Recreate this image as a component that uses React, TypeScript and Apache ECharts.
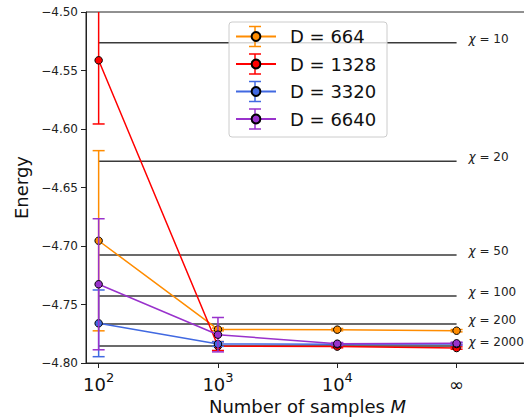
import React, { useEffect, useRef } from 'react';
import * as echarts from 'echarts';

// x positions: log10(M); infinity placed at 5
const samplePositions = [2, 3, 4, 5];
const sampleTickLabels = ['{n|10}{s|2}', '{n|10}{s|3}', '{n|10}{s|4}', '{n|\u221e}'];

const seriesNames = ['D = 664', 'D = 1328', 'D = 3320', 'D = 6640'];
const seriesColors = ['#ff8c00', '#ff0000', '#4169e1', '#9932cc'];

const energyD664 = [-4.6955, -4.7713, -4.7715, -4.7724];
const errorD664 = [0.077, 0.0012, 0.001, 0.001];
const energyD1328 = [-4.5413, -4.7855, -4.786, -4.7872];
const errorD1328 = [0.0544, 0.0038, 0.001, 0.001];
const energyD3320 = [-4.7661, -4.7838, -4.784, -4.7838];
const errorD3320 = [0.0285, 0.002, 0.001, 0.001];
const energyD6640 = [-4.7327, -4.7758, -4.7835, -4.7832];
const errorD6640 = [0.056, 0.0147, 0.001, 0.001];

const chiValues = [10, 20, 50, 100, 200, 2000];
const chiEnergies = [-4.5262, -4.6276, -4.7077, -4.7427, -4.7667, -4.7855];

const yTicks = [-4.8, -4.75, -4.7, -4.65, -4.6, -4.55, -4.5];

const FONT = 'DejaVu Sans';

// legend layout constants
const LEG_LEFT = 229;
const LEG_TOP = 22;
const LEG_PAD = [3.5, 12, 7, 6];
const LEG_ITEM_W = 40;
const LEG_ROW_H = 22;
const LEG_GAP = 5.5;

export default function App() {
  const ref = useRef<HTMLDivElement>(null);
  useEffect(() => {
    document.body.style.margin = '0';
    if (!ref.current) return;
    const chart = echarts.init(ref.current, null, { renderer: 'svg' });

    const energies = [energyD664, energyD1328, energyD3320, energyD6640];
    const errors = [errorD664, errorD1328, errorD3320, errorD6640];

    const series: any[] = [];
    series.push({
      type: 'custom',
      name: 'chi',
      z: 2,
      silent: true,
      clip: false,
      encode: { x: 0, y: 1 },
      data: chiValues.map((c, i) => [5, chiEnergies[i], c]),
      renderItem: (params: any, api: any) => {
        const e = api.value(1);
        const chi = api.value(2);
        const p1 = api.coord([2, e]);
        const p2 = api.coord([5, e]);
        const pl = api.coord([5.1, e]);
        return {
          type: 'group',
          children: [
            {
              type: 'line',
              shape: { x1: p1[0], y1: p1[1], x2: p2[0], y2: p2[1] },
              style: { stroke: '#3a3a3a', lineWidth: 1.5 },
            },
            {
              type: 'text',
              x: pl[0],
              y: pl[1] - 4,
              style: {
                text: '{i|\u03c7} = ' + chi,
                rich: { i: { fontStyle: 'italic', fontSize: 12, fontFamily: FONT, fill: '#222' } },
                fontSize: 12,
                fontFamily: FONT,
                fill: '#222',
                align: 'left',
                verticalAlign: 'middle',
              },
            },
          ],
        };
      },
    });

    seriesNames.forEach((name, k) => {
      const color = seriesColors[k];
      series.push({
        type: 'custom',
        name: 'err' + k,
        z: 10 + 2 * k,
        silent: true,
        clip: false,
        encode: { x: 0, y: 1 },
        data: samplePositions.map((x, i) => [x, energies[k][i], errors[k][i]]),
        renderItem: (params: any, api: any) => {
          const x = api.value(0);
          const y = api.value(1);
          const e = api.value(2);
          const top = api.coord([x, y + e]);
          const bot = api.coord([x, y - e]);
          const cs = params.coordSys;
          const yMin = cs.y;
          const yMax = cs.y + cs.height;
          const cx = top[0];
          const t = Math.max(top[1], yMin);
          const b = Math.min(bot[1], yMax);
          const children: any[] = [
            { type: 'line', shape: { x1: cx, y1: t, x2: cx, y2: b }, style: { stroke: color, lineWidth: 1.5 } },
          ];
          if (top[1] >= yMin) {
            children.push({ type: 'line', shape: { x1: cx - 6, y1: top[1], x2: cx + 6, y2: top[1] }, style: { stroke: color, lineWidth: 1.5 } });
          }
          if (bot[1] <= yMax) {
            children.push({ type: 'line', shape: { x1: cx - 6, y1: bot[1], x2: cx + 6, y2: bot[1] }, style: { stroke: color, lineWidth: 1.5 } });
          }
          return { type: 'group', children };
        },
      });
      series.push({
        type: 'line',
        name,
        z: 11 + 2 * k,
        data: samplePositions.map((x, i) => [x, energies[k][i]]),
        symbol: 'circle',
        symbolSize: 7.5,
        showSymbol: true,
        lineStyle: { color, width: 1.5 },
        itemStyle: { color, borderColor: '#000', borderWidth: 1 },
        emphasis: { disabled: true },
      });
    });

    const graphicEls: any[] = [
      {
        type: 'rect',
        z: 98,
        shape: { x: LEG_LEFT, y: LEG_TOP, width: 158, height: 115, r: 3 },
        style: { fill: 'rgba(255,255,255,0.8)', stroke: '#cccccc', lineWidth: 1 },
      },
    ];
    seriesNames.forEach((_, k) => {
      const cx = LEG_LEFT + LEG_PAD[3] + LEG_ITEM_W / 2;
      const cy = LEG_TOP + LEG_PAD[0] + LEG_ROW_H / 2 + k * (LEG_ROW_H + LEG_GAP);
      const color = seriesColors[k];
      graphicEls.push(
        { type: 'line', z: 99, shape: { x1: cx, y1: cy - 10, x2: cx, y2: cy + 10 }, style: { stroke: color, lineWidth: 1.5 } },
        { type: 'line', z: 99, shape: { x1: cx - 6, y1: cy - 10, x2: cx + 6, y2: cy - 10 }, style: { stroke: color, lineWidth: 1.5 } },
        { type: 'line', z: 99, shape: { x1: cx - 6, y1: cy + 10, x2: cx + 6, y2: cy + 10 }, style: { stroke: color, lineWidth: 1.5 } },
      );
    });

    chart.setOption({
      animation: false,
      backgroundColor: '#ffffff',
      grid: {
        left: 86,
        top: 12,
        width: 443,
        height: 351,
        show: true,
        borderColor: '#222',
        borderWidth: 1,
        containLabel: false,
        outerBoundsMode: 'none',
      },
      legend: {
        data: seriesNames,
        orient: 'vertical',
        left: LEG_LEFT,
        top: LEG_TOP,
        padding: LEG_PAD,
        itemWidth: LEG_ITEM_W,
        itemHeight: 11,
        itemGap: LEG_GAP,
        z: 100,
        selectedMode: false,
        textStyle: {
          fontSize: 18,
          fontFamily: FONT,
          color: '#111',
          lineHeight: LEG_ROW_H,
          padding: [0, 0, 0, 9],
        },
      },
      graphic: { elements: graphicEls },
      xAxis: {
        type: 'value',
        min: 1.894,
        max: 5.607,
        splitLine: { show: false },
        axisLine: { show: true, onZero: false, lineStyle: { color: '#222', width: 1 } },
        axisTick: { show: true, customValues: samplePositions, length: 5, lineStyle: { color: '#222' } },
        axisLabel: {
          customValues: samplePositions,
          margin: 8,
          formatter: (v: number) => {
            const idx = samplePositions.findIndex((p) => Math.abs(p - v) < 1e-6);
            return idx >= 0 ? sampleTickLabels[idx] : '';
          },
          rich: {
            n: { fontSize: 18, fontFamily: FONT, color: '#111', lineHeight: 22, verticalAlign: 'bottom' },
            s: { fontSize: 13, fontFamily: FONT, color: '#111', lineHeight: 13, verticalAlign: 'top' },
          },
        },
        name: 'Number of samples {i|M}',
        nameLocation: 'middle',
        nameGap: 34,
        nameTextStyle: {
          fontSize: 18,
          fontFamily: FONT,
          color: '#111',
          rich: { i: { fontSize: 18, fontFamily: FONT, fontStyle: 'italic', color: '#111' } },
        },
      },
      yAxis: {
        type: 'value',
        min: -4.8,
        max: -4.5,
        interval: 0.05,
        splitLine: { show: false },
        axisLine: { show: true, onZero: false, lineStyle: { color: '#222', width: 1 } },
        axisTick: { show: true, length: 5, lineStyle: { color: '#222' } },
        axisLabel: {
          margin: 8,
          fontSize: 12,
          fontFamily: FONT,
          color: '#222',
          formatter: (v: number) => {
            const t = yTicks.find((y) => Math.abs(y - v) < 1e-6);
            return t === undefined ? '' : t.toFixed(2).replace('-', '\u2212');
          },
        },
        name: 'Energy',
        nameLocation: 'middle',
        nameGap: 51,
        nameTextStyle: { fontSize: 18, fontFamily: FONT, color: '#111' },
      },
      series,
    });
    return () => chart.dispose();
  }, []);
  return <div ref={ref} style={{ width: 524, height: 418 }} />;
}
